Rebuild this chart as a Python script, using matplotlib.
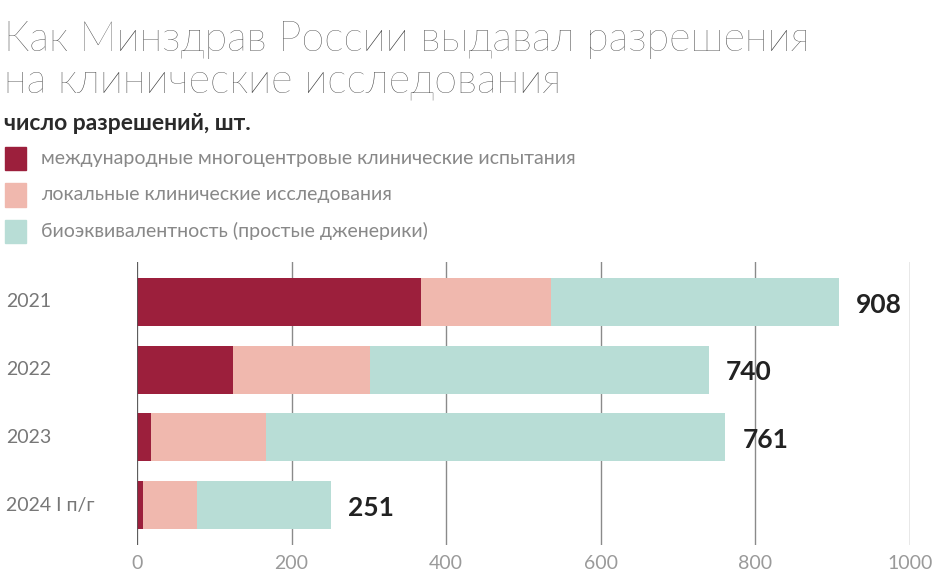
import matplotlib.pyplot as plt
import matplotlib.transforms as mtransforms

plt.rcParams['font.family'] = ['Lato', 'DejaVu Sans']

years = ['2021', '2022', '2023', '2024 I п/г']
intl = [367, 124, 18, 8]
local = [168, 177, 149, 70]
bioeq = [373, 439, 594, 173]
totals = [908, 740, 761, 251]

labels = ['международные многоцентровые клинические испытания',
          'локальные клинические исследования',
          'биоэквивалентность (простые дженерики)']
colors = ['#9c1f3c', '#f0b8ae', '#b8ddd6']

fig = plt.figure(figsize=(9.52, 5.81), dpi=100)
ax = fig.add_axes([0.1439, 0.062, 0.812, 0.487])

pos = list(range(len(years)))
left = [0] * len(years)
for vals, c in zip([intl, local, bioeq], colors):
    ax.barh(pos, vals, left=left, height=0.71, color=c, zorder=3)
    left = [a + b for a, b in zip(left, vals)]

for p, t in zip(pos, totals):
    ax.text(t + 22, p + 0.04, str(t), va='center', ha='left',
            fontsize=19, fontweight='bold', color='#222222')

ax.set_xlim(0, 1000)
ax.set_ylim(3.59, -0.59)
ax.set_xticks([0, 200, 400, 600, 800, 1000])
ax.tick_params(axis='x', length=0, pad=7, labelsize=14, labelcolor='#9a9a9a')
ax.set_yticks([])
for s in ax.spines.values():
    s.set_visible(False)
ax.grid(axis='x', color='#8a8a8a', linewidth=1, zorder=0)
ax.axvline(0, color='#555555', linewidth=1.2, zorder=4)

trans = mtransforms.blended_transform_factory(fig.transFigure, ax.transData)
for p, y in zip(pos, years):
    ax.text(0.006, p, y, transform=trans, va='center', ha='left',
            fontsize=14, color='#777777')

fig.text(0.004, 0.932, 'Как Минздрав России выдавал разрешения',
         fontsize=29.8, fontweight='light', color='#3a3a3a', va='center')
fig.text(0.004, 0.86, 'на клинические исследования',
         fontsize=29.8, fontweight='light', color='#3a3a3a', va='center')
fig.text(0.004, 0.787, 'число разрешений, шт.',
         fontsize=16.5, fontweight='bold', color='#2a2a2a', va='center')

for i, (lab, c) in enumerate(zip(labels, colors)):
    y = 0.727 - i * 0.0625
    fig.patches.append(plt.Rectangle((0.005, y - 0.02), 0.022, 0.04,
                                     transform=fig.transFigure, color=c))
    fig.text(0.043, y, lab, fontsize=14, color='#888888', va='center')

fig.savefig('out.png', dpi=100, facecolor='white')
